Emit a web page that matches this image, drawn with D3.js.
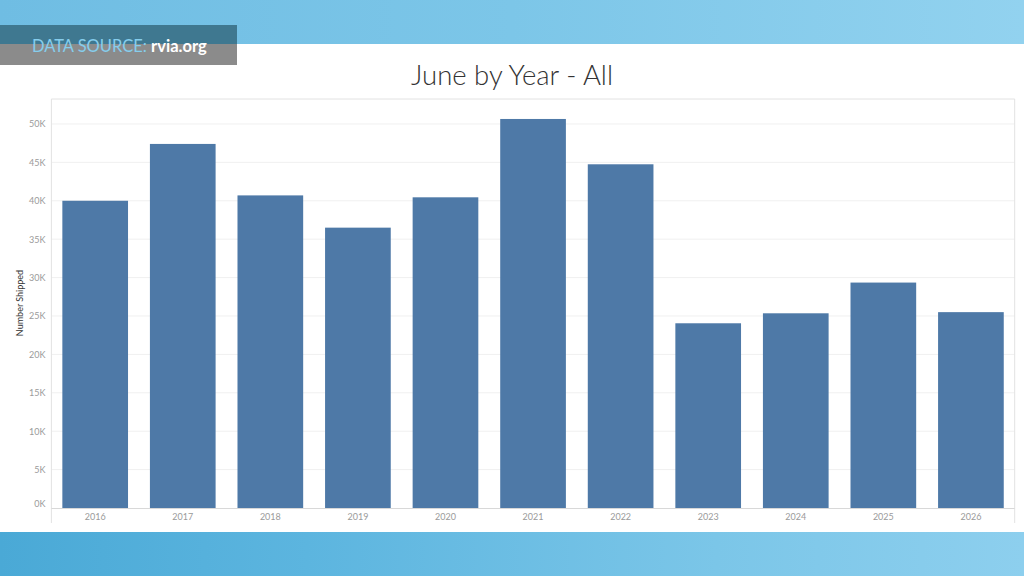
<!DOCTYPE html>
<html>
<head>
<meta charset="utf-8">
<script src="https://cdn.jsdelivr.net/npm/d3@7"></script>
<style>
  html, body { margin: 0; padding: 0; background: #fff; }
  svg { display: block; }
</style>
</head>
<body>
<svg width="1024" height="576"></svg>
<script>
// chart values
var years = ['2016', '2017', '2018', '2019', '2020', '2021', '2022', '2023', '2024', '2025', '2026'];
var shipped = [40000, 47400, 40700, 36500, 40450, 50650, 44750, 24050, 25350, 29350, 25500];
var yTicks = [0, 5000, 10000, 15000, 20000, 25000, 30000, 35000, 40000, 45000, 50000];

var color = {
  bar: '#4e79a7',
  grid: '#f0f0f0',
  border: '#e2e2e2',
  tick: '#9a9a9a',
  title: '#333333'
};

function draw() {
  var svg = d3.select('svg');
  var W = 1024;

  // background bands
  var defs = svg.append('defs');
  var gTop = defs.append('linearGradient').attr('id', 'gtop').attr('x1', 0).attr('x2', 1);
  gTop.append('stop').attr('offset', 0).attr('stop-color', '#6fbde3');
  gTop.append('stop').attr('offset', 0.5).attr('stop-color', '#7cc6e8');
  gTop.append('stop').attr('offset', 1).attr('stop-color', '#92d2ef');
  var gBot = defs.append('linearGradient').attr('id', 'gbot').attr('x1', 0).attr('x2', 1);
  gBot.append('stop').attr('offset', 0).attr('stop-color', '#4aa9d6');
  gBot.append('stop').attr('offset', 0.3).attr('stop-color', '#5cb5df');
  gBot.append('stop').attr('offset', 0.7).attr('stop-color', '#7bc6e8');
  gBot.append('stop').attr('offset', 1).attr('stop-color', '#8dcfee');

  svg.append('rect').attr('width', W).attr('height', 44).attr('fill', 'url(#gtop)');
  svg.append('rect').attr('y', 532).attr('width', W).attr('height', 44).attr('fill', 'url(#gbot)');

  // data source banner
  svg.append('rect').attr('x', 0).attr('y', 25).attr('width', 237).attr('height', 19).attr('fill', '#3f7890');
  svg.append('rect').attr('x', 0).attr('y', 44).attr('width', 237).attr('height', 21).attr('fill', '#8b8b8b');
  var src = svg.append('text').attr('x', 32).attr('y', 52)
    .attr('font-family', 'Lato, "Noto Sans", sans-serif').attr('font-size', 16.5);
  src.append('tspan').attr('fill', '#86cdec').text('DATA SOURCE: ');
  src.append('tspan').attr('fill', '#ffffff').attr('font-weight', 'bold').text('rvia.org');

  // title
  svg.append('text').attr('x', 512).attr('y', 85).attr('text-anchor', 'middle')
    .attr('font-family', 'Lato, "Open Sans", sans-serif').attr('font-weight', 300)
    .attr('font-size', 27.5).attr('fill', color.title).text('June by Year - All');

  // plot area
  var pLeft = 51.4, pRight = 1014.7, pTop = 99, pBottom = 508;

  var x = d3.scaleBand().domain(years).range([pLeft, pRight]).paddingInner(0.25).paddingOuter(0.125);
  var y = d3.scaleLinear().domain([0, 53250]).range([pBottom, pTop]);

  // gridlines
  svg.append('g').selectAll('line').data(yTicks.slice(1)).join('line')
    .attr('x1', pLeft).attr('x2', pRight)
    .attr('y1', function(d) { return y(d); }).attr('y2', function(d) { return y(d); })
    .attr('stroke', color.grid).attr('stroke-width', 1);

  // borders
  svg.append('line').attr('x1', pLeft).attr('x2', pRight).attr('y1', pTop).attr('y2', pTop).attr('stroke', color.border);
  svg.append('line').attr('x1', pRight).attr('x2', pRight).attr('y1', pTop).attr('y2', 523).attr('stroke', color.border);
  svg.append('line').attr('x1', pLeft).attr('x2', pLeft).attr('y1', pTop).attr('y2', 523).attr('stroke', color.border);

  // bars
  svg.append('g').selectAll('rect').data(years).join('rect')
    .attr('x', function(d) { return x(d); })
    .attr('width', x.bandwidth())
    .attr('y', function(d, i) { return y(shipped[i]); })
    .attr('height', function(d, i) { return pBottom - y(shipped[i]); })
    .attr('fill', color.bar);

  // axis line
  svg.append('line').attr('x1', pLeft).attr('x2', pRight).attr('y1', pBottom + 0.5).attr('y2', pBottom + 0.5)
    .attr('stroke', '#d8d8d8');

  // y axis
  var yAxis = svg.append('g').attr('transform', 'translate(' + pLeft + ',0)')
    .call(d3.axisLeft(y).tickValues(yTicks).tickSize(0).tickPadding(6)
      .tickFormat(function(d) { return (d / 1000) + 'K'; }));
  yAxis.select('.domain').remove();
  yAxis.selectAll('text').attr('fill', color.tick).attr('font-size', 9)
    .attr('font-family', 'Lato, "Noto Sans", sans-serif');
  // bottom label is nudged up to stay inside the pane
  yAxis.selectAll('.tick').filter(function(d) { return d === 0; }).select('text').attr('dy', '-0.2em');

  // x axis
  var xAxis = svg.append('g').attr('transform', 'translate(0,' + pBottom + ')')
    .call(d3.axisBottom(x).tickSize(0).tickPadding(6));
  xAxis.select('.domain').remove();
  xAxis.selectAll('text').attr('fill', color.tick).attr('font-size', 9)
    .attr('font-family', 'Lato, "Noto Sans", sans-serif');

  // y title
  svg.append('text').attr('transform', 'translate(23,303) rotate(-90)').attr('text-anchor', 'middle')
    .attr('font-family', 'Lato, "Noto Sans", sans-serif').attr('font-size', 9).attr('fill', '#333')
    .text('Number Shipped');
}

draw();
</script>
</body>
</html>
